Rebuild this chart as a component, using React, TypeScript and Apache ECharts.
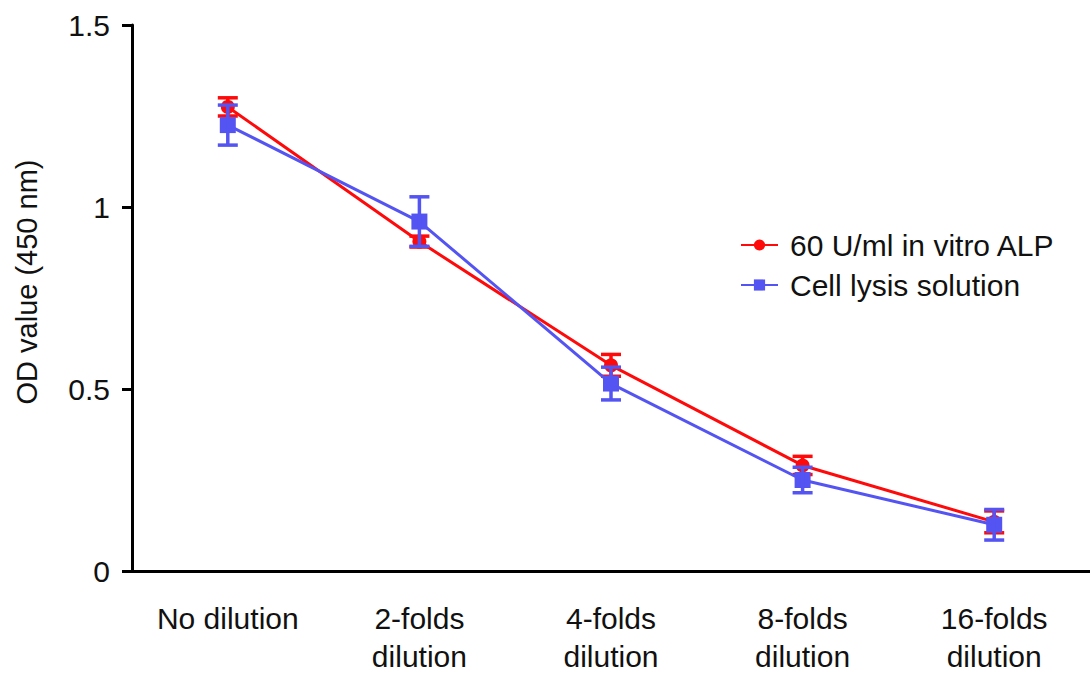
import React, { useEffect, useRef } from "react";
import * as echarts from "echarts";

const categories = ["No dilution", "2-folds\ndilution", "4-folds\ndilution", "8-folds\ndilution", "16-folds\ndilution"];
const alpName = "60 U/ml in vitro ALP";
const lysisName = "Cell lysis solution";
const yTitle = "OD value (450 nm)";
const alpMean = [1.275, 0.905, 0.565, 0.29, 0.135];
const alpErr = [0.025, 0.015, 0.03, 0.025, 0.03];
const lysisMean = [1.225, 0.96, 0.515, 0.25, 0.127];
const lysisErr = [0.055, 0.068, 0.045, 0.035, 0.042];
const yTicks = [0, 0.5, 1, 1.5];

const RED = "#ff0a0a";
const BLUE = "#5454f2";
const FONT = "Liberation Sans, Arial, sans-serif";

function errorSeries(name: string, mean: number[], err: number[], color: string, z: number) {
  return {
    type: "custom",
    name,
    z,
    silent: true,
    data: mean.map((m, i) => [i, m - err[i], m + err[i]]),
    renderItem: (params: any, api: any) => {
      const x = api.value(0);
      const lo = api.coord([x, api.value(1)]);
      const hi = api.coord([x, api.value(2)]);
      const hw = 10;
      const style = { stroke: color, lineWidth: 3.5 };
      return {
        type: "group",
        children: [
          { type: "line", shape: { x1: lo[0], y1: lo[1], x2: hi[0], y2: hi[1] }, style },
          { type: "line", shape: { x1: lo[0] - hw, y1: lo[1], x2: lo[0] + hw, y2: lo[1] }, style },
          { type: "line", shape: { x1: hi[0] - hw, y1: hi[1], x2: hi[0] + hw, y2: hi[1] }, style },
        ],
      };
    },
  };
}

export default function App() {
  const ref = useRef<HTMLDivElement>(null);
  useEffect(() => {
    const chart = echarts.init(ref.current!, null, { renderer: "svg" });
    chart.setOption({
      animation: false,
      backgroundColor: "#ffffff",
      textStyle: { fontFamily: FONT },
      grid: { left: 132, right: -5, top: 25, bottom: 98, containLabel: false },
      graphic: [
        {
          type: "text",
          x: 27,
          y: 282,
          rotation: Math.PI / 2,
          style: {
            text: yTitle,
            fontSize: 29,
            fontFamily: FONT,
            fill: "#111",
            textAlign: "center",
            textVerticalAlign: "middle",
          },
        },
      ],
      legend: {
        data: [alpName, lysisName],
        orient: "vertical",
        left: 735,
        top: 225,
        itemWidth: 37,
        itemHeight: 14,
        itemGap: 10,
        textStyle: { fontSize: 30, color: "#111", fontFamily: FONT, padding: [0, 0, 0, 7] },
      },
      xAxis: {
        type: "category",
        data: categories,
        boundaryGap: true,
        axisLine: { lineStyle: { color: "#000", width: 3 } },
        axisTick: { alignWithLabel: true, length: 10, lineStyle: { color: "#000", width: 3 } },
        axisLabel: { fontSize: 30, color: "#111", lineHeight: 38, margin: 28, interval: 0 },
        splitLine: { show: false },
      },
      yAxis: {
        type: "value",
        min: 0,
        max: 1.5,
        interval: 0.5,
        axisLine: { show: true, lineStyle: { color: "#000", width: 3 } },
        axisTick: { show: true, length: 10, lineStyle: { color: "#000", width: 3 } },
        axisLabel: {
          fontSize: 30,
          color: "#111",
          margin: 22,
          formatter: (v: number) => (yTicks.includes(v) ? String(v) : ""),
        },
        splitLine: { show: false },
      },
      series: [
        {
          type: "line",
          name: alpName,
          data: alpMean,
          z: 2,
          symbol: "circle",
          symbolSize: 14,
          lineStyle: { color: RED, width: 3 },
          itemStyle: { color: RED },
        },
        errorSeries(alpName, alpMean, alpErr, RED, 3),
        {
          type: "line",
          name: lysisName,
          data: lysisMean,
          z: 4,
          symbol: "rect",
          symbolSize: 16,
          lineStyle: { color: BLUE, width: 3 },
          itemStyle: { color: BLUE },
        },
        errorSeries(lysisName, lysisMean, lysisErr, BLUE, 5),
      ],
    });
    return () => chart.dispose();
  }, []);
  return (
    <div
      ref={ref}
      style={{ position: "fixed", left: 0, top: 0, width: 1090, height: 675, background: "#fff" }}
    />
  );
}
